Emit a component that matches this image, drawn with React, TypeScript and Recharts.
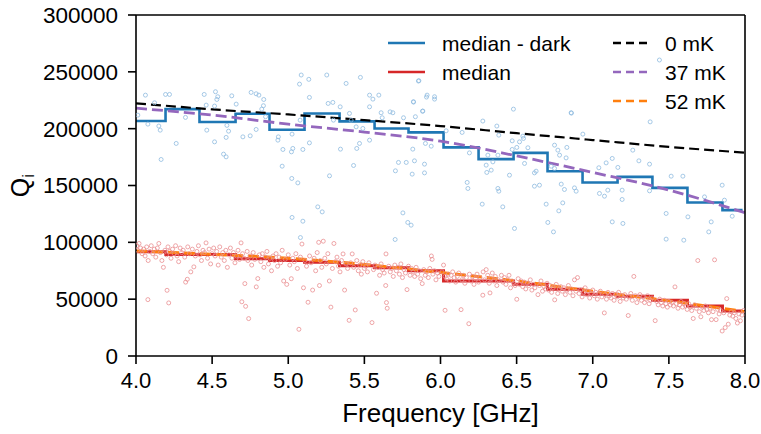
import React from 'react';
import { ComposedChart, Line, Scatter, XAxis, YAxis, ReferenceLine } from 'recharts';

// ---------- data ----------
const FREQ_TICKS = [4.0, 4.5, 5.0, 5.5, 6.0, 6.5, 7.0, 7.5, 8.0];
const Q_TICKS = [0, 50000, 100000, 150000, 200000, 250000, 300000];

// bin left edges (GHz), last value = end of the step
const BIN_EDGES = [4.0, 4.194, 4.417, 4.654, 4.877, 5.107, 5.337, 5.567, 5.79, 6.02, 6.25, 6.48, 6.703, 6.933, 7.163, 7.392, 7.622, 7.852, 7.984];
// medians per bin (thousands)
const MEDIAN_DARK_K = [206.7, 217.2, 205.8, 213.1, 199.0, 213.4, 206.4, 200.2, 196.7, 183.5, 173.2, 178.7, 162.6, 152.7, 157.6, 147.9, 135.1, 128.3];
const MEDIAN_K = [91.8, 89.4, 89.4, 85.5, 84.0, 82.5, 79.4, 77.7, 75.0, 66.0, 66.0, 63.1, 58.7, 54.3, 52.6, 49.1, 44.0, 39.6];

// model curves (thousands)
const MODEL_FREQ = [4.0, 4.5, 5.0, 5.5, 6.0, 6.5, 7.0, 7.5, 8.0];
const MODEL_0MK_K = [222.3, 217.0, 212.5, 207.5, 202.3, 196.0, 190.0, 184.0, 178.9];
const MODEL_37MK_K = [218.0, 212.0, 204.0, 197.0, 189.0, 176.0, 161.5, 146.0, 126.0];
const MODEL_52MK_K = [92.5, 89.5, 86.0, 80.5, 73.5, 66.0, 57.0, 48.5, 39.0];

// scattered dark-subtracted resonators [GHz, thousands]
const DARK_POINTS: [number, number][] = [
  [5.085, 247.2], [5.253, 247.2], [5.135, 243.4], [5.074, 239.2], [5.474, 245.1], [5.38, 239.8], [5.858, 242.2], [4.062, 229.5],
  [4.194, 230.1], [4.22, 230.1], [4.448, 230.1], [4.522, 232.5], [4.537, 228.1], [4.531, 225.7], [4.629, 228.9], [4.756, 231.9],
  [4.789, 230.7], [4.807, 229.5], [4.839, 225.7], [4.837, 220.2], [4.826, 217.2], [4.658, 221.6], [4.461, 220.7], [4.516, 219.9],
  [4.122, 222.8], [4.012, 211.9], [4.078, 204.0], [4.15, 202.3], [4.159, 198.7], [4.264, 187.0], [4.165, 172.9], [4.325, 209.9],
  [4.465, 198.7], [4.608, 197.8], [4.597, 202.9], [4.592, 192.3], [4.516, 188.4], [4.575, 177.6], [4.592, 175.2], [4.702, 192.8],
  [4.75, 193.7], [4.789, 199.3], [4.851, 210.5], [4.935, 192.8], [4.932, 189.9], [4.965, 181.7], [5.021, 179.6], [5.03, 182.6],
  [5.025, 195.2], [5.096, 181.7], [5.139, 187.5], [5.139, 227.5], [5.078, 207.5], [4.96, 167.0], [5.023, 156.2], [5.063, 152.3],
  [5.194, 131.2], [5.223, 126.8], [5.025, 121.9], [5.096, 118.6], [5.08, 104.2], [5.262, 222.2], [5.293, 223.1], [5.341, 219.2],
  [5.297, 207.5], [5.343, 182.0], [5.271, 158.5], [5.429, 167.6], [5.45, 182.6], [5.468, 187.0], [5.446, 201.6], [5.534, 229.5],
  [5.556, 226.0], [5.595, 229.5], [5.534, 219.2], [5.61, 214.0], [5.669, 214.8], [5.687, 214.0], [5.617, 209.6], [5.822, 223.7],
  [5.884, 215.5], [5.835, 210.5], [5.912, 229.5], [5.961, 228.1], [5.901, 187.0], [5.939, 184.6], [5.818, 182.0], [5.724, 170.3],
  [5.775, 170.3], [5.829, 171.7], [5.895, 168.8], [5.704, 162.9], [5.814, 160.0], [5.895, 161.1], [5.753, 125.9], [5.785, 117.5],
  [5.807, 115.1], [5.702, 102.5], [5.534, 189.9], [5.757, 209.6], [5.402, 213.4], [5.413, 207.5], [5.49, 200.2],
  [6.479, 217.2], [6.278, 206.7], [6.37, 202.3], [6.858, 214.0], [7.377, 206.0], [6.142, 196.7], [6.037, 198.1], [6.383, 194.3],
  [6.471, 189.3], [6.519, 188.4], [6.541, 193.4], [6.545, 191.4], [6.501, 183.5], [6.574, 183.2], [6.471, 181.7], [6.19, 178.7],
  [6.377, 176.7], [6.311, 176.7], [6.344, 170.8], [6.3, 167.9], [6.333, 163.5], [6.304, 161.5], [6.453, 159.1], [6.617, 161.1],
  [6.628, 162.6], [6.552, 169.4], [6.65, 150.3], [6.617, 149.4], [6.749, 185.5], [6.771, 181.1], [6.782, 176.7], [6.83, 183.5],
  [6.825, 174.3], [6.727, 167.0], [6.749, 165.0], [6.935, 195.2], [7.088, 169.9], [7.263, 181.1], [7.303, 171.7], [7.373, 168.8],
  [7.128, 173.8], [7.165, 165.9], [7.04, 165.6], [6.793, 151.2], [6.814, 146.5], [6.88, 147.9], [6.891, 145.0], [7.044, 143.0],
  [7.077, 140.6], [7.099, 145.9], [7.193, 145.9], [7.193, 137.7], [7.373, 145.3], [7.515, 158.2], [7.592, 158.2], [7.85, 150.3],
  [7.734, 140.0], [7.865, 137.1], [7.916, 123.0], [7.625, 122.4], [7.482, 125.4], [6.274, 133.6], [6.409, 131.2], [6.694, 133.6],
  [6.803, 134.7], [6.777, 127.7], [6.705, 117.5], [6.742, 109.2], [6.486, 112.2], [7.128, 118.0], [7.198, 116.6], [7.482, 102.8],
  [7.598, 101.9], [7.778, 118.0], [7.762, 109.2], [6.175, 152.7], [6.18, 147.4], [6.377, 147.4], [6.383, 145.0],
  [7.438, 260.4], [5.855, 241.9], [6.86, 213.7], [5.908, 227.8], [5.961, 226.0], [5.823, 223.4], [5.882, 215.4],
];

// scattered resonators (raw) [GHz, thousands]
const RAW_POINTS: [number, number][] = [
  [4.005, 97], [4.01, 93], [4.02, 99], [4.03, 95], [4.04, 90], [4.05, 94], [4.06, 88], [4.07, 96], [4.08, 84], [4.09, 92], [4.1, 97], [4.078, 49.6],
  [4.11, 90], [4.12, 94], [4.13, 87], [4.14, 95], [4.15, 99], [4.16, 91], [4.17, 84], [4.18, 78], [4.19, 93], [4.2, 89], [4.204, 57.8], [4.215, 46.7],
  [4.21, 96], [4.22, 92], [4.23, 86], [4.24, 94], [4.25, 90], [4.26, 97], [4.27, 88], [4.28, 83], [4.29, 95], [4.3, 91],
  [4.31, 93], [4.32, 87], [4.326, 65], [4.337, 67.5], [4.34, 96], [4.35, 90], [4.36, 74], [4.37, 94], [4.38, 78.4], [4.39, 88], [4.4, 92],
  [4.41, 97], [4.42, 89], [4.43, 84], [4.44, 93], [4.45, 91], [4.46, 99.5], [4.47, 86], [4.48, 94], [4.49, 81], [4.5, 90],
  [4.51, 95], [4.52, 88], [4.53, 92], [4.54, 80], [4.55, 96], [4.56, 87], [4.57, 91], [4.58, 84], [4.59, 93], [4.6, 78],
  [4.61, 89], [4.62, 95], [4.63, 86], [4.64, 91], [4.65, 82], [4.66, 88], [4.67, 93], [4.68, 85], [4.69, 99.5], [4.695, 47.7], [4.7, 90],
  [4.71, 86], [4.715, 63.7], [4.72, 43.7], [4.73, 92], [4.735, 84], [4.74, 32.9], [4.75, 88], [4.76, 80], [4.77, 91], [4.78, 85], [4.79, 60.8], [4.8, 68.1],
  [4.81, 89], [4.82, 83], [4.83, 90], [4.84, 78], [4.85, 87], [4.86, 92], [4.87, 81], [4.88, 86], [4.89, 75], [4.9, 88],
  [4.91, 84], [4.92, 90], [4.93, 79], [4.94, 87], [4.95, 82], [4.96, 93], [4.97, 66], [4.98, 85], [4.99, 63], [5.0, 89],
  [5.01, 80], [5.02, 68], [5.03, 86], [5.04, 83], [5.05, 90], [5.06, 77], [5.07, 23.5], [5.08, 87], [5.09, 98.5], [5.1, 60],
  [5.11, 84], [5.12, 79], [5.13, 47.3], [5.14, 88], [5.15, 82], [5.16, 58], [5.17, 86], [5.18, 75], [5.19, 91], [5.2, 100], [5.205, 62],
  [5.21, 84], [5.22, 78], [5.23, 101], [5.24, 86], [5.25, 81], [5.26, 90], [5.27, 66], [5.28, 43], [5.29, 77], [5.3, 99],
  [5.31, 83], [5.32, 87], [5.33, 79], [5.34, 74], [5.35, 84], [5.36, 89.8], [5.37, 58], [5.38, 81], [5.39, 77], [5.4, 31.4],
  [5.41, 82], [5.42, 89.8], [5.43, 78], [5.44, 40.5], [5.45, 84], [5.46, 75], [5.47, 80], [5.48, 72], [5.49, 83], [5.5, 77],
  [5.51, 79], [5.52, 74], [5.53, 82], [5.55, 29.4], [5.56, 76], [5.57, 80], [5.58, 55.2], [5.59, 78], [5.6, 71],
  [5.61, 81], [5.62, 76], [5.63, 73], [5.64, 62], [5.645, 47], [5.65, 42], [5.642, 89.8], [5.66, 79], [5.67, 74], [5.68, 77], [5.69, 70], [5.7, 80],
  [5.71, 75], [5.72, 78], [5.73, 72], [5.74, 81], [5.75, 69], [5.76, 76], [5.77, 73], [5.78, 58.4], [5.79, 79], [5.8, 71],
  [5.81, 77], [5.82, 74], [5.83, 70], [5.84, 78], [5.85, 72], [5.86, 75], [5.87, 68], [5.88, 63.7], [5.89, 76], [5.9, 71],
  [5.91, 74], [5.92, 69], [5.93, 77], [5.94, 88], [5.945, 85], [5.95, 72], [5.96, 75], [5.97, 67], [5.98, 73], [5.99, 70], [6.03, 40.2],
  [6.01, 74], [6.02, 80], [6.03, 70], [6.04, 68], [6.05, 72], [6.06, 66], [6.07, 71], [6.08, 74], [6.09, 69], [6.1, 65],
  [6.11, 70], [6.12, 73], [6.135, 40.8], [6.14, 67], [6.15, 71], [6.16, 64], [6.17, 69], [6.186, 28.4], [6.19, 72], [6.2, 66],
  [6.21, 70], [6.22, 63], [6.23, 68], [6.24, 72], [6.25, 65], [6.26, 69], [6.278, 53.5], [6.28, 74], [6.29, 67], [6.3, 76],
  [6.31, 71], [6.32, 64], [6.325, 55.5], [6.33, 68], [6.34, 73], [6.35, 66], [6.36, 70], [6.37, 62], [6.38, 67], [6.4, 71],
  [6.41, 65], [6.42, 69], [6.43, 63], [6.44, 67], [6.45, 71], [6.46, 60], [6.47, 66], [6.48, 64], [6.49, 62], [6.501, 49.9],
  [6.51, 68], [6.52, 63], [6.53, 66], [6.54, 61], [6.55, 65], [6.56, 59], [6.57, 64], [6.58, 62], [6.59, 67], [6.6, 58],
  [6.61, 63], [6.62, 60], [6.64, 54], [6.65, 62], [6.66, 66], [6.67, 57], [6.68, 61], [6.69, 59], [6.7, 64],
  [6.71, 58], [6.72, 62], [6.73, 56], [6.74, 60], [6.75, 49.4], [6.76, 63], [6.77, 55], [6.78, 59], [6.79, 61], [6.8, 57],
  [6.81, 60], [6.82, 54], [6.83, 58], [6.84, 62], [6.85, 56], [6.86, 59], [6.87, 53], [6.88, 67], [6.89, 57], [6.9, 69],
  [6.91, 55], [6.92, 58], [6.93, 52], [6.94, 56], [6.95, 60], [6.96, 54], [6.97, 57], [6.98, 51], [6.99, 55], [7.0, 58],
  [7.01, 53], [7.02, 56], [7.03, 50], [7.04, 55], [7.05, 57], [7.06, 52], [7.076, 37.9], [7.08, 54], [7.09, 50], [7.1, 56],
  [7.11, 53], [7.12, 51], [7.13, 55], [7.14, 49], [7.15, 54], [7.16, 52], [7.17, 56], [7.18, 48], [7.19, 53], [7.2, 51],
  [7.21, 54], [7.22, 50], [7.233, 35.6], [7.24, 52], [7.25, 55], [7.26, 49], [7.27, 70], [7.28, 53], [7.29, 47], [7.3, 51],
  [7.31, 54], [7.32, 49], [7.33, 52], [7.34, 47], [7.35, 50], [7.36, 53], [7.37, 46], [7.38, 49], [7.39, 51], [7.41, 31.1],
  [7.42, 48], [7.43, 45], [7.44, 50], [7.45, 47], [7.46, 44], [7.47, 49], [7.48, 46], [7.49, 43], [7.5, 48],
  [7.51, 45], [7.52, 47], [7.53, 44], [7.54, 60.8], [7.55, 46], [7.56, 42], [7.57, 45], [7.58, 48], [7.59, 43], [7.6, 46],
  [7.61, 44], [7.62, 41], [7.63, 46], [7.64, 43], [7.65, 40], [7.66, 33], [7.67, 45], [7.68, 42], [7.69, 84], [7.7, 39],
  [7.71, 34.5], [7.72, 43], [7.73, 40], [7.74, 44], [7.75, 41], [7.76, 38], [7.77, 42], [7.78, 32], [7.79, 39], [7.8, 84.6],
  [7.81, 32], [7.82, 41], [7.83, 37], [7.84, 40], [7.85, 22], [7.86, 38], [7.87, 25], [7.88, 50.5], [7.89, 28], [7.9, 36],
  [7.91, 39], [7.92, 35], [7.93, 38], [7.94, 33], [7.95, 29], [7.96, 37], [7.97, 31], [7.98, 36], [7.99, 40],
];

// ---------- styling ----------
const FONT = '"Liberation Sans", Arial, Helvetica, sans-serif';
const C_BLUE = '#1f77b4';
const C_RED = '#d62728';
const C_PURPLE = '#9467bd';
const C_ORANGE = '#ff7f0e';

const toPts = (arr: [number, number][]) => arr.map(([x, k]) => ({ x, y: k * 1000 }));
const stepData = (vals: number[]) =>
  BIN_EDGES.map((x, i) => ({ x, y: vals[Math.min(i, vals.length - 1)] * 1000 }));
const modelData = (vals: number[]) => MODEL_FREQ.map((x, i) => ({ x, y: vals[i] * 1000 }));

const darkScatter = toPts(DARK_POINTS);
const rawScatter = toPts(RAW_POINTS);
const darkStep = stepData(MEDIAN_DARK_K);
const rawStep = stepData(MEDIAN_K);
const m0 = modelData(MODEL_0MK_K);
const m37 = modelData(MODEL_37MK_K);
const m52 = modelData(MODEL_52MK_K);

const ring = (color: string) => (p: any) =>
  p.cx == null ? <g /> : <circle cx={p.cx} cy={p.cy} r={2} fill="none" stroke={color} strokeWidth={0.8} />;

const YLabel = (props: any) => {
  const vb = props.viewBox || { y: 15, height: 341 };
  const cy = vb.y + vb.height / 2;
  const x = 29;
  return (
    <text x={x} y={cy} transform={`rotate(-90 ${x} ${cy})`} textAnchor="middle" fontFamily={FONT} fontSize={25} fill="#000">
      Q<tspan fontSize={17} dy={5}>i</tspan>
    </text>
  );
};

const LEGEND_LEFT = [
  { label: 'median - dark', color: C_BLUE, dash: undefined as string | undefined },
  { label: 'median', color: C_RED, dash: undefined as string | undefined },
];
const LEGEND_RIGHT = [
  { label: '0 mK', color: '#000', dash: '8 5' },
  { label: '37 mK', color: C_PURPLE, dash: '8 5' },
  { label: '52 mK', color: C_ORANGE, dash: '8 5' },
];

export default function App() {
  return (
    <div style={{ position: 'absolute', left: 0, top: 0, width: 761, height: 434, background: '#fff' }}>
      <ComposedChart width={761} height={434} margin={{ top: 15, right: 0, bottom: 6, left: 36 }}>
        <XAxis
          dataKey="x"
          type="number"
          domain={[4, 8]}
          ticks={FREQ_TICKS}
          tickFormatter={(v: number) => v.toFixed(1)}
          stroke="#000"
          strokeWidth={1.6}
          tickSize={8}
          tickMargin={8}
          tick={{ fill: '#000', fontSize: 22, fontFamily: FONT }}
          height={72}
          allowDataOverflow
          label={{ value: 'Frequency [GHz]', position: 'insideBottom', offset: 6, fill: '#000', fontSize: 26, fontFamily: FONT }}
        />
        <YAxis
          dataKey="y"
          type="number"
          domain={[0, 300000]}
          ticks={Q_TICKS}
          stroke="#000"
          strokeWidth={1.6}
          tickSize={8}
          tickMargin={10}
          tick={{ fill: '#000', fontSize: 22.5, fontFamily: FONT }}
          width={100}
          allowDataOverflow
          label={<YLabel />}
        />
        <YAxis
          yAxisId="right"
          orientation="right"
          type="number"
          domain={[0, 300000]}
          ticks={Q_TICKS}
          stroke="#000"
          strokeWidth={1.6}
          tickSize={8}
          tickFormatter={() => ''}
          width={16}
        />
        <ReferenceLine y={300000} stroke="#000" strokeWidth={1.6} />
        <Scatter data={darkScatter} dataKey="y" shape={ring('#8fbbe0')} isAnimationActive={false} />
        <Scatter data={rawScatter} dataKey="y" shape={ring('#ea8f92')} isAnimationActive={false} />
        <Line data={darkStep} dataKey="y" type="stepAfter" stroke={C_BLUE} strokeWidth={2.6} dot={false} activeDot={false} isAnimationActive={false} />
        <Line data={rawStep} dataKey="y" type="stepAfter" stroke={C_RED} strokeWidth={3} dot={false} activeDot={false} isAnimationActive={false} />
        <Line data={m0} dataKey="y" type="monotone" stroke="#000" strokeWidth={2.2} strokeDasharray="10 5" dot={false} activeDot={false} isAnimationActive={false} />
        <Line data={m37} dataKey="y" type="monotone" stroke={C_PURPLE} strokeWidth={2.8} strokeDasharray="11 5" dot={false} activeDot={false} isAnimationActive={false} />
        <Line data={m52} dataKey="y" type="monotone" stroke={C_ORANGE} strokeWidth={3} strokeDasharray="11 5" dot={false} activeDot={false} isAnimationActive={false} />
      </ComposedChart>
      <svg width={761} height={434} style={{ position: 'absolute', left: 0, top: 0, pointerEvents: 'none' }}>
        {LEGEND_LEFT.map((it, i) => (
          <g key={it.label}>
            <line x1={388} x2={425} y1={43 + i * 29} y2={43 + i * 29} stroke={it.color} strokeWidth={2.6} />
            <text x={442} y={43 + i * 29} dominantBaseline="central" fontFamily={FONT} fontSize={21} fill="#000">{it.label}</text>
          </g>
        ))}
        {LEGEND_RIGHT.map((it, i) => (
          <g key={it.label}>
            <line x1={613} x2={649} y1={43 + i * 29} y2={43 + i * 29} stroke={it.color} strokeWidth={2.4} strokeDasharray={it.dash} />
            <text x={665} y={43 + i * 29} dominantBaseline="central" fontFamily={FONT} fontSize={21} fill="#000">{it.label}</text>
          </g>
        ))}
      </svg>
    </div>
  );
}
